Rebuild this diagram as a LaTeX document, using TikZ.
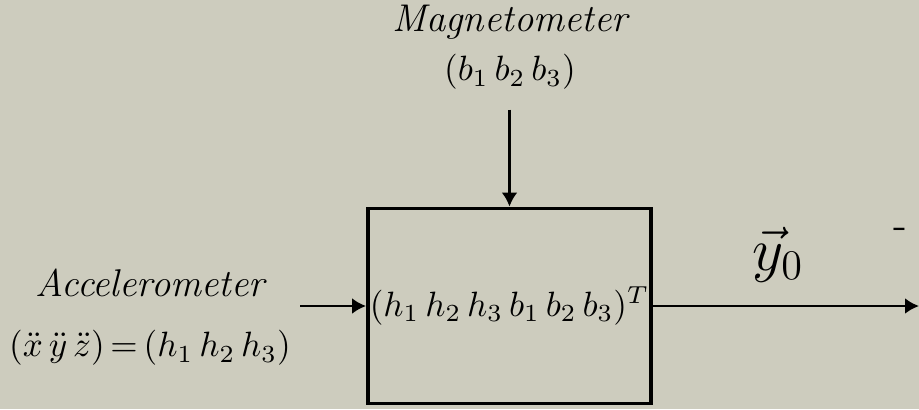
\documentclass[tikz,border=0pt]{standalone}
\usepackage{amsmath}
\usepackage{tikz}
\usetikzlibrary{arrows.meta, positioning}
\definecolor{paperbg}{RGB}{205,204,190}

\begin{document}
\begin{tikzpicture}[
    block/.style={draw, line width=1.1pt, minimum width=2.83cm, minimum height=1.95cm,
                  inner sep=0pt, font=\fontsize{10}{12}\selectfont},
    lbl/.style={font=\fontsize{11}{13}\selectfont\itshape, inner sep=0pt},
    sig/.style={font=\fontsize{10}{12}\selectfont, inner sep=0pt},
    arr/.style={-{Latex[length=1.4mm,width=1.6mm]}, line width=0.8pt}
  ]
  \fill[paperbg] (0,0) rectangle (9.19,4.09);
  \useasboundingbox (0,0) rectangle (9.19,4.09);

  \node[block] (est) at (5.095,1.03) {$(h_1\,h_2\,h_3\,b_1\,b_2\,b_3)^T$};

  %% Magnetometer input
  \node[lbl] (mag) at (5.10,3.87) {Magnetometer};
  \node[sig] (magv) at (5.10,3.37) {$(b_1\,b_2\,b_3)$};
  \coordinate (magin) at ([yshift=0.97cm]est.north);
  \draw[arr] (magin) -- (est.north);

  %% Accelerometer input
  \node[lbl] (acc) at (1.50,1.26) {Accelerometer};
  \node[sig] (accv) at (1.50,0.61)
    {$(\ddot{x}\,\ddot{y}\,\ddot{z})\mskip3mu{=}\mskip3mu(h_1\,h_2\,h_3)$};
  \coordinate[left=0.66cm of est.west] (accin);
  \draw[arr] (accin) -- (est.west);

  %% Output
  \coordinate (out) at (9.19,1.03);
  \draw[arr] (est.east) -- (out);
  \node[font=\fontsize{18}{20}\selectfont] (yout) at (7.78,1.54) {$\vec{y}_0$};
  \node[font=\fontsize{12}{14}\selectfont, inner sep=0pt] (mark) at (9.00,1.76) {-};
\end{tikzpicture}
\end{document}
